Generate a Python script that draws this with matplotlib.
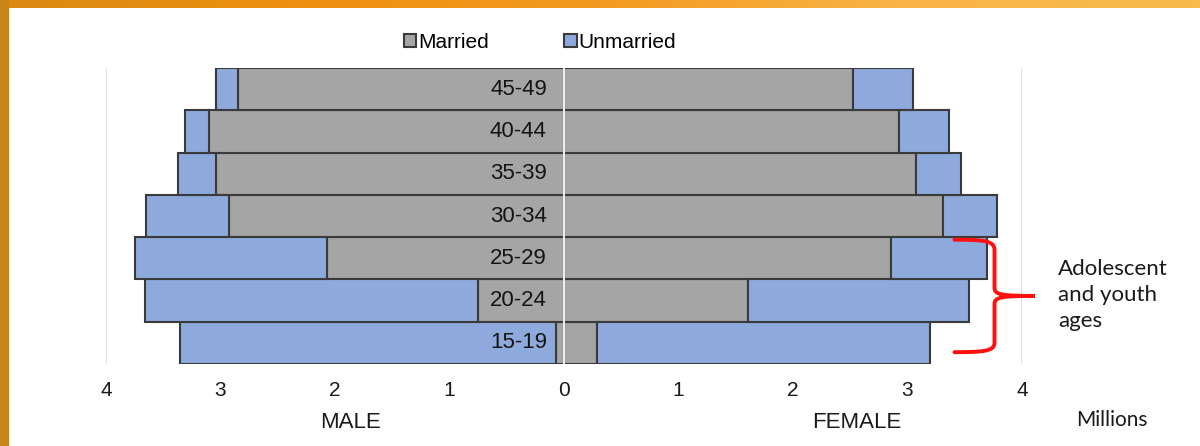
import numpy as np
import matplotlib.pyplot as plt
from matplotlib.path import Path
from matplotlib.patches import PathPatch, Rectangle
from matplotlib.colors import LinearSegmentedColormap

# data (millions)
ages = ["15-19", "20-24", "25-29", "30-34", "35-39", "40-44", "45-49"]
male_married = [0.07, 0.75, 2.07, 2.93, 3.04, 3.10, 2.85]
male_unmarried = [3.28, 2.91, 1.68, 0.72, 0.33, 0.21, 0.19]
female_married = [0.29, 1.61, 2.86, 3.31, 3.07, 2.93, 2.52]
female_unmarried = [2.91, 1.93, 0.83, 0.47, 0.40, 0.43, 0.53]
ticks = [-4, -3, -2, -1, 0, 1, 2, 3, 4]

plt.rcParams['font.family'] = ['Liberation Sans', 'DejaVu Sans']
grey = "#A5A5A5"
blue = "#8EA9DB"
edge = "#3A3A3A"

fig = plt.figure(figsize=(12, 4.46), dpi=100)
fig.patch.set_facecolor("white")

# orange frame (top band + left band)
top = fig.add_axes([0, 1 - 8 / 446, 1, 8 / 446])
grad = np.linspace(0, 1, 256).reshape(1, -1)
cm = LinearSegmentedColormap.from_list("o", ["#D98A12", "#EE9010", "#F39A20", "#F8B445", "#F9BC4C"])
top.imshow(grad, aspect="auto", cmap=cm)
top.axis("off")
fig.patches.append(Rectangle((0, 0), 8 / 1200, 1, transform=fig.transFigure,
                             color="#C98618", zorder=0))

ax = fig.add_axes([106 / 1200, 1 - 364 / 446, 916 / 1200, 296 / 446])
y = np.arange(len(ages))

ax.barh(y, [-v for v in male_married], height=1.0, color=grey, edgecolor=edge, lw=1.5, zorder=2, label="Married")
ax.barh(y, [-v for v in male_unmarried], left=[-v for v in male_married], height=1.0,
        color=blue, edgecolor=edge, lw=1.5, zorder=2, label="Unmarried")
ax.barh(y, female_married, height=1.0, color=grey, edgecolor=edge, lw=1.5, zorder=2)
ax.barh(y, female_unmarried, left=female_married, height=1.0, color=blue, edgecolor=edge, lw=1.5, zorder=2)

ax.axvline(0, color="#EDEDED", lw=1.5, zorder=3)
for t in ticks:
    if t != 0:
        ax.axvline(t, color="#D9D9D9", lw=1.2, zorder=1)

for i, a in enumerate(ages):
    ax.text(-0.15, i, a, ha="right", va="center", fontsize=16, color="#141414", zorder=4)

ax.set_xlim(-4, 4)
ax.set_ylim(-0.5, len(ages) - 0.5)
ax.set_xticks(ticks)
ax.set_xticklabels([str(abs(t)) for t in ticks], fontsize=15, color="#1A1A1A")
ax.tick_params(axis="x", length=0, pad=12)
ax.set_yticks([])
for s in ax.spines.values():
    s.set_visible(False)

fig.legend(loc="center", bbox_to_anchor=(540 / 1200, 1 - 42 / 446), ncol=2, frameon=False,
           fontsize=15, handlelength=0.6, handleheight=0.6, handletextpad=0.1,
           columnspacing=3.6)

fig.text(350 / 1200, 1 - 423 / 446, "MALE", ha="center", va="center", fontsize=16, color="#1A1A1A")
fig.text(857 / 1200, 1 - 423 / 446, "FEMALE", ha="center", va="center", fontsize=16, color="#1A1A1A")
fig.text(1112 / 1200, 1 - 420 / 446, "Millions", ha="center", va="center", fontsize=15,
         color="#1A1A1A", family=["Lato", "DejaVu Sans"])

# red brace next to the adolescent / youth rows
verts = [(3.41, 2.44), (3.66, 2.44), (3.76, 2.42), (3.76, 2.2),
         (3.76, 1.3),
         (3.76, 1.14), (3.82, 1.11), (4.11, 1.11),
         (3.82, 1.11), (3.76, 1.08), (3.76, 0.92),
         (3.76, 0.0),
         (3.76, -0.2), (3.66, -0.22), (3.41, -0.22)]
codes = [Path.MOVETO, Path.CURVE4, Path.CURVE4, Path.CURVE4,
         Path.LINETO,
         Path.CURVE4, Path.CURVE4, Path.CURVE4,
         Path.CURVE4, Path.CURVE4, Path.CURVE4,
         Path.LINETO,
         Path.CURVE4, Path.CURVE4, Path.CURVE4]
ax.add_patch(PathPatch(Path(verts, codes), fill=False, edgecolor="#FF1010", lw=2.8,
                       clip_on=False, zorder=5, capstyle="round"))

fig.text(1058 / 1200, 1 - 295 / 446, "Adolescent\nand youth\nages", ha="left", va="center",
         fontsize=16, linespacing=1.4, color="#1A1A1A", family=["Lato", "DejaVu Sans"])

fig.savefig("out.png", dpi=100)
